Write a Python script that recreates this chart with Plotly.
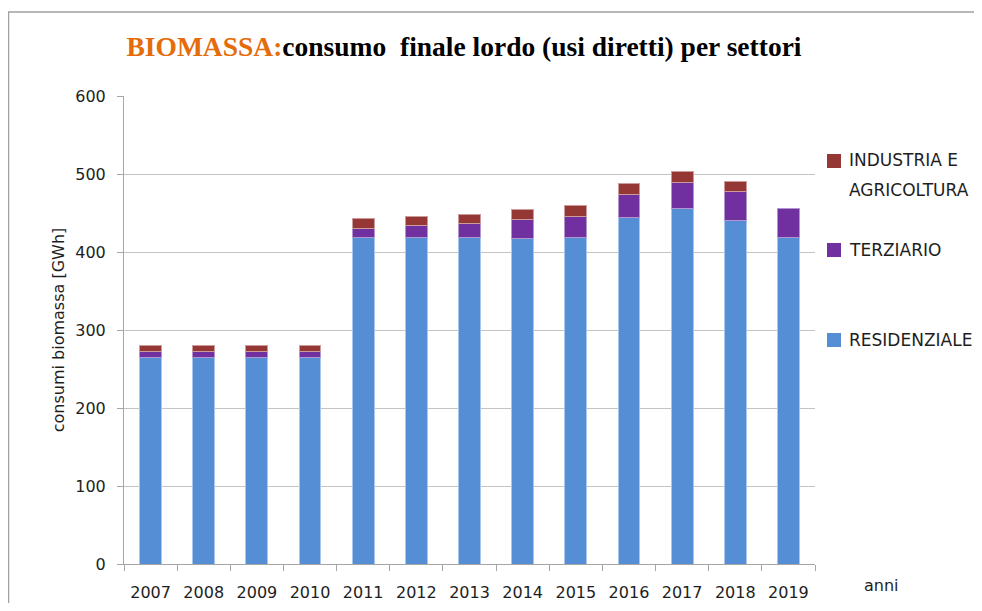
import plotly.graph_objects as go

anni = ["2007", "2008", "2009", "2010", "2011", "2012", "2013", "2014", "2015", "2016", "2017", "2018", "2019"]
residenziale = [265, 265, 265, 265, 419, 418, 418, 417, 419, 444, 456, 441, 419]
terziario = [8, 8, 8, 8, 11, 16, 18, 25, 27, 30, 33, 36, 37]
industria_agricoltura = [7, 7, 7, 7, 13, 12, 12, 12, 13, 14, 14, 14, 0]
y_ticks = [0, 100, 200, 300, 400, 500, 600]

# page offset (default body margin of the html page)
OFF = 8
W, H = 982 - OFF, 611 - 2 * OFF
# plot area in page pixels
PX0, PX1, PY0, PY1 = 124, 815, 96, 564
L = PX0 - OFF
R = W - (PX1 - OFF)
T = PY0 - OFF
B = H - (PY1 - OFF)
pw = PX1 - PX0
ph = PY1 - PY0


def px2x(px):
    return (px - PX0) / pw


def px2y(py):
    return (PY1 - py) / ph


C_RES = "#558ED5"
C_TER = "#7030A0"
C_IND = "#953735"

fig = go.Figure()
fig.add_trace(go.Bar(x=anni, y=residenziale, name="RESIDENZIALE", showlegend=False,
                     marker=dict(color=C_RES, line=dict(color="#A9C6EC", width=1))))
fig.add_trace(go.Bar(x=anni, y=terziario, name="TERZIARIO", showlegend=False,
                     marker=dict(color=C_TER, line=dict(color="#B496CF", width=1))))
fig.add_trace(go.Bar(x=anni, y=industria_agricoltura, name="INDUSTRIA E AGRICOLTURA", showlegend=False,
                     marker=dict(color=C_IND,
                                 line=dict(color="#CC9C9B",
                                           width=[1 if v > 0 else 0 for v in industria_agricoltura]))))

FONT = "DejaVu Sans, Verdana, sans-serif"
TXT = "#1E1E1E"

# manual legend
legend_items = [
    (C_IND, 161, [("INDUSTRIA E", 160), ("AGRICOLTURA", 190)]),
    (C_TER, 250, [("TERZIARIO", 250)]),
    (C_RES, 340, [("RESIDENZIALE", 340)]),
]
shapes = [
    dict(type="line", xref="paper", yref="paper", x0=px2x(8.5), x1=px2x(8.5), y0=px2y(620), y1=px2y(12),
         line=dict(color="#A0A0A0", width=1.5)),
    dict(type="line", xref="paper", yref="paper", x0=px2x(8), x1=px2x(995), y0=px2y(12), y1=px2y(12),
         line=dict(color="#A0A0A0", width=1.5)),
]
annotations = [
    dict(text="anni", xref="paper", yref="paper", x=px2x(881.5), y=px2y(585),
         xanchor="center", yanchor="middle", showarrow=False,
         font=dict(family=FONT, size=16, color=TXT)),
]
for color, yc, lines in legend_items:
    shapes.append(dict(type="rect", xref="paper", yref="paper",
                       x0=px2x(827), x1=px2x(841), y0=px2y(yc + 7), y1=px2y(yc - 7),
                       fillcolor=color, line=dict(width=0)))
    for text, ty in lines:
        annotations.append(dict(text=text, xref="paper", yref="paper", x=px2x(847), y=px2y(ty),
                                xanchor="left", yanchor="middle", showarrow=False,
                                font=dict(family=FONT, size=17, color=TXT)))

fig.update_layout(
    width=W, height=H,
    margin=dict(l=L, r=R, t=T, b=B, autoexpand=False),
    barmode="stack",
    bargap=0.59,
    paper_bgcolor="white",
    plot_bgcolor="white",
    showlegend=False,
    title=dict(
        text="<b><span style='color:#E46C0A'>BIOMASSA:</span>consumo  finale lordo (usi diretti) per settori</b>",
        font=dict(family="Liberation Serif, Times New Roman, serif", size=27.5, color="black"),
        x=(464 - OFF) / W, xanchor="center", xref="container",
        y=1 - (46 - OFF) / H, yanchor="middle", yref="container",
    ),
    xaxis=dict(
        type="category",
        automargin=False,
        showline=True, linecolor="#A6A6A6", linewidth=1,
        ticks="outside", tickson="boundaries", ticklen=6, tickcolor="#A6A6A6",
        tickfont=dict(family=FONT, size=16, color=TXT),
        ticklabelstandoff=14,
        showgrid=False,
    ),
    yaxis=dict(
        range=[0, 600],
        tickvals=y_ticks,
        automargin=False,
        showline=True, linecolor="#A6A6A6", linewidth=1,
        ticks="outside", ticklen=6, tickcolor="#A6A6A6",
        ticklabelstandoff=8,
        showgrid=True, gridcolor="#C4C4C4", gridwidth=1,
        tickfont=dict(family=FONT, size=16, color=TXT),
        title=dict(text="consumi biomassa [GWh]", font=dict(family=FONT, size=16, color=TXT), standoff=6),
        zeroline=False,
    ),
    annotations=annotations,
    shapes=shapes,
)

fig.write_html("out.html")
